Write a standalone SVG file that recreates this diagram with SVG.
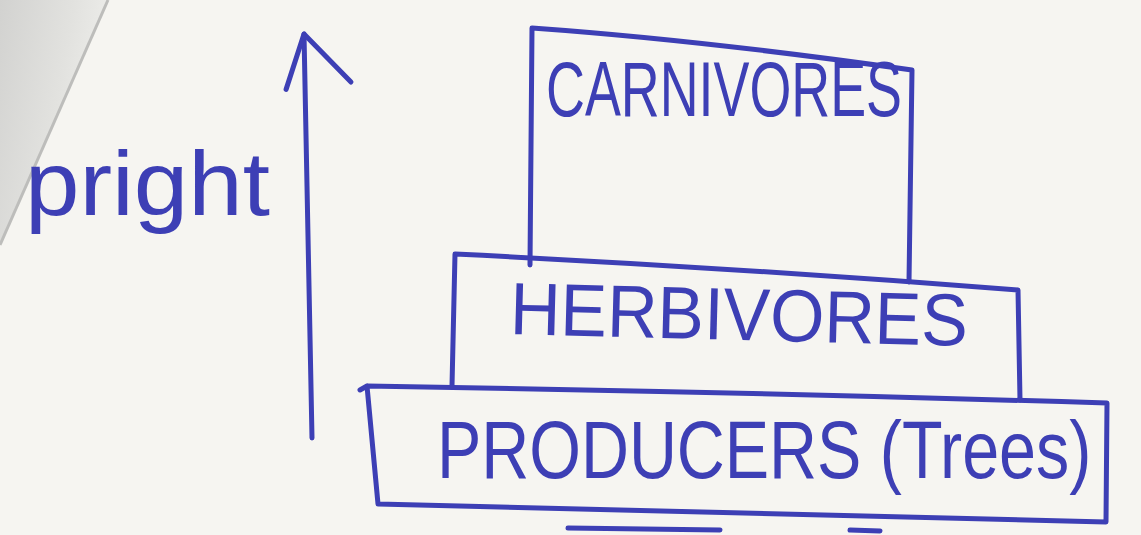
<svg xmlns="http://www.w3.org/2000/svg" width="1141" height="535" viewBox="0 0 1141 535">
  <defs>
    <linearGradient id="shade" x1="0" y1="0" x2="1" y2="0.4">
      <stop offset="0" stop-color="#d2d2d0"/>
      <stop offset="0.6" stop-color="#e2e2df"/>
      <stop offset="1" stop-color="#efefec"/>
    </linearGradient>
    <marker id="openHead" markerUnits="userSpaceOnUse" viewBox="-60 -25 65 75" refX="0" refY="0" markerWidth="65" markerHeight="75" orient="auto" overflow="visible">
      <path d="M -55,-19 L 0,0 L -49,46" fill="none" stroke="#3d3fb5" stroke-width="5" stroke-linecap="round" stroke-linejoin="round"/>
    </marker>
    <style>
      .pen { fill: none; stroke: #3d3fb5; stroke-width: 5; stroke-linecap: round; stroke-linejoin: round; }
      .label { fill: #3d3fb5; font-family: "Liberation Sans", Arial, sans-serif; }
    </style>
  </defs>

  <rect x="0" y="0" width="1141" height="535" fill="#f6f5f1"/>
  <polygon points="0,0 108,0 0,245" fill="url(#shade)"/>
  <line x1="108" y1="0" x2="0" y2="245" stroke="#bdbdbb" stroke-width="3"/>

  <g id="connectors">
    <path class="pen" d="M 312,438 L 304,34" marker-end="url(#openHead)"/>
  </g>

  <g id="label-upright">
    <text class="label" x="25" y="215" font-size="90" textLength="245" lengthAdjust="spacingAndGlyphs">pright</text>
  </g>

  <g id="carnivores">
    <path class="pen" d="M 530,265 L 532,28 Q 700,40 912,70 L 909,282"/>
    <text class="label" x="546" y="116" font-size="78" textLength="356" lengthAdjust="spacingAndGlyphs">CARNIVORES</text>
  </g>

  <g id="herbivores">
    <path class="pen" d="M 452,386 L 455,254 Q 740,268 1018,290 L 1020,400"/>
    <text class="label" x="510" y="340" font-size="74" textLength="458" lengthAdjust="spacingAndGlyphs" transform="rotate(1.5 740 315)">HERBIVORES</text>
  </g>

  <g id="producers">
    <path class="pen" d="M 360,390 L 367,386 L 378,504 Q 740,512 1106,522 L 1107,403 Q 740,392 367,386"/>
    <text class="label" x="0" y="0" font-size="82" transform="translate(437 478) scale(0.81 1)">PRODUCERS (Trees)</text>
  </g>

  <g id="cut-strokes">
    <path class="pen" d="M 568,528 L 720,530"/>
    <path class="pen" d="M 850,530 L 880,531"/>
  </g>
</svg>
